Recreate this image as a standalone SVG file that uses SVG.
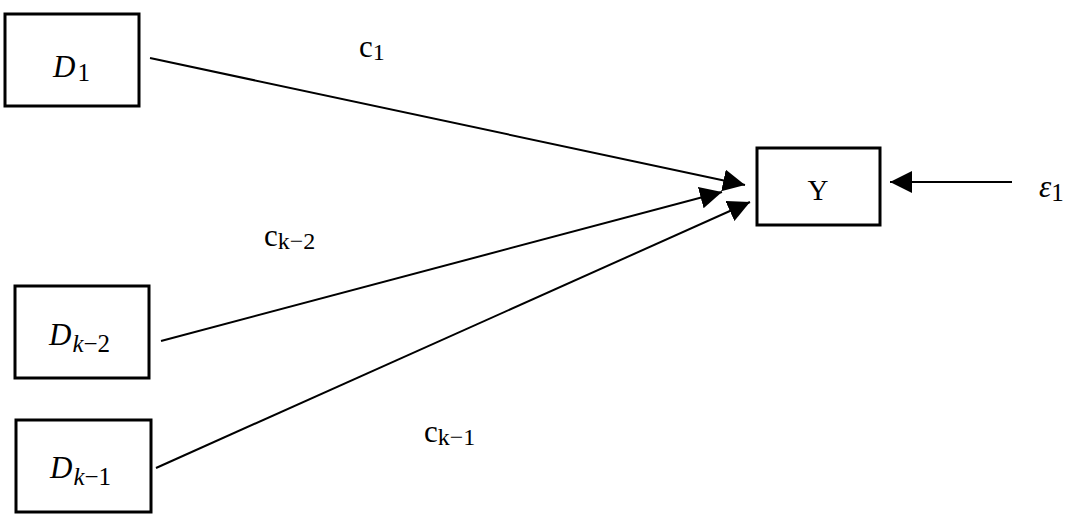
<svg xmlns="http://www.w3.org/2000/svg" width="1077" height="522" viewBox="0 0 1077 522">
<style>
.box{fill:#fff;stroke:#000;stroke-width:3}
.ln{stroke:#000;stroke-width:2;fill:none}
.t{font-family:"Liberation Serif","DejaVu Serif",serif;fill:#000}
.it{font-style:italic}
</style>
<defs>
<marker id="ah" markerUnits="userSpaceOnUse" markerWidth="24" markerHeight="22" refX="22" refY="11" orient="auto">
<path d="M0,0 L22,11 L0,22 Z" fill="#000"/>
</marker>
</defs>
<rect width="1077" height="522" fill="#fff"/>
<g id="connectors">
<line class="ln" x1="150" y1="58" x2="745" y2="185" marker-end="url(#ah)"/>
<line class="ln" x1="161" y1="341" x2="722" y2="192" marker-end="url(#ah)"/>
<line class="ln" x1="156" y1="468" x2="750" y2="202" marker-end="url(#ah)"/>
<line class="ln" x1="1012" y1="182" x2="890" y2="182" marker-end="url(#ah)"/>
</g>
<g id="D1">
<rect class="box" x="5" y="14" width="134" height="92"/>
<text class="t" x="53" y="77" font-size="31"><tspan class="it">D</tspan><tspan font-size="25" dy="4" dx="2">1</tspan></text>
</g>
<g id="Dk2">
<rect class="box" x="15" y="286" width="134" height="92"/>
<text class="t" x="49" y="345" font-size="31"><tspan class="it">D</tspan><tspan class="it" font-size="25" dy="7" dx="1">k</tspan><tspan font-size="25">−2</tspan></text>
</g>
<g id="Dk1">
<rect class="box" x="16" y="420" width="135" height="92"/>
<text class="t" x="50" y="478" font-size="31"><tspan class="it">D</tspan><tspan class="it" font-size="25" dy="7" dx="1">k</tspan><tspan font-size="25">−1</tspan></text>
</g>
<g id="Y">
<rect class="box" x="757" y="148" width="123" height="77"/>
<text class="t" x="818" y="200" font-size="29" text-anchor="middle">Y</text>
</g>
<g id="eps">
<text class="t" x="1039" y="197" font-size="31"><tspan class="it">ε</tspan><tspan font-size="25" dy="4">1</tspan></text>
</g>
<g id="labels">
<text class="t" x="359" y="57" font-size="31">c<tspan font-size="24" dy="3">1</tspan></text>
<text class="t" x="264" y="246" font-size="31">c<tspan font-size="24" dy="3">k−2</tspan></text>
<text class="t" x="424" y="442" font-size="31">c<tspan font-size="24" dy="3">k−1</tspan></text>
</g>
</svg>
